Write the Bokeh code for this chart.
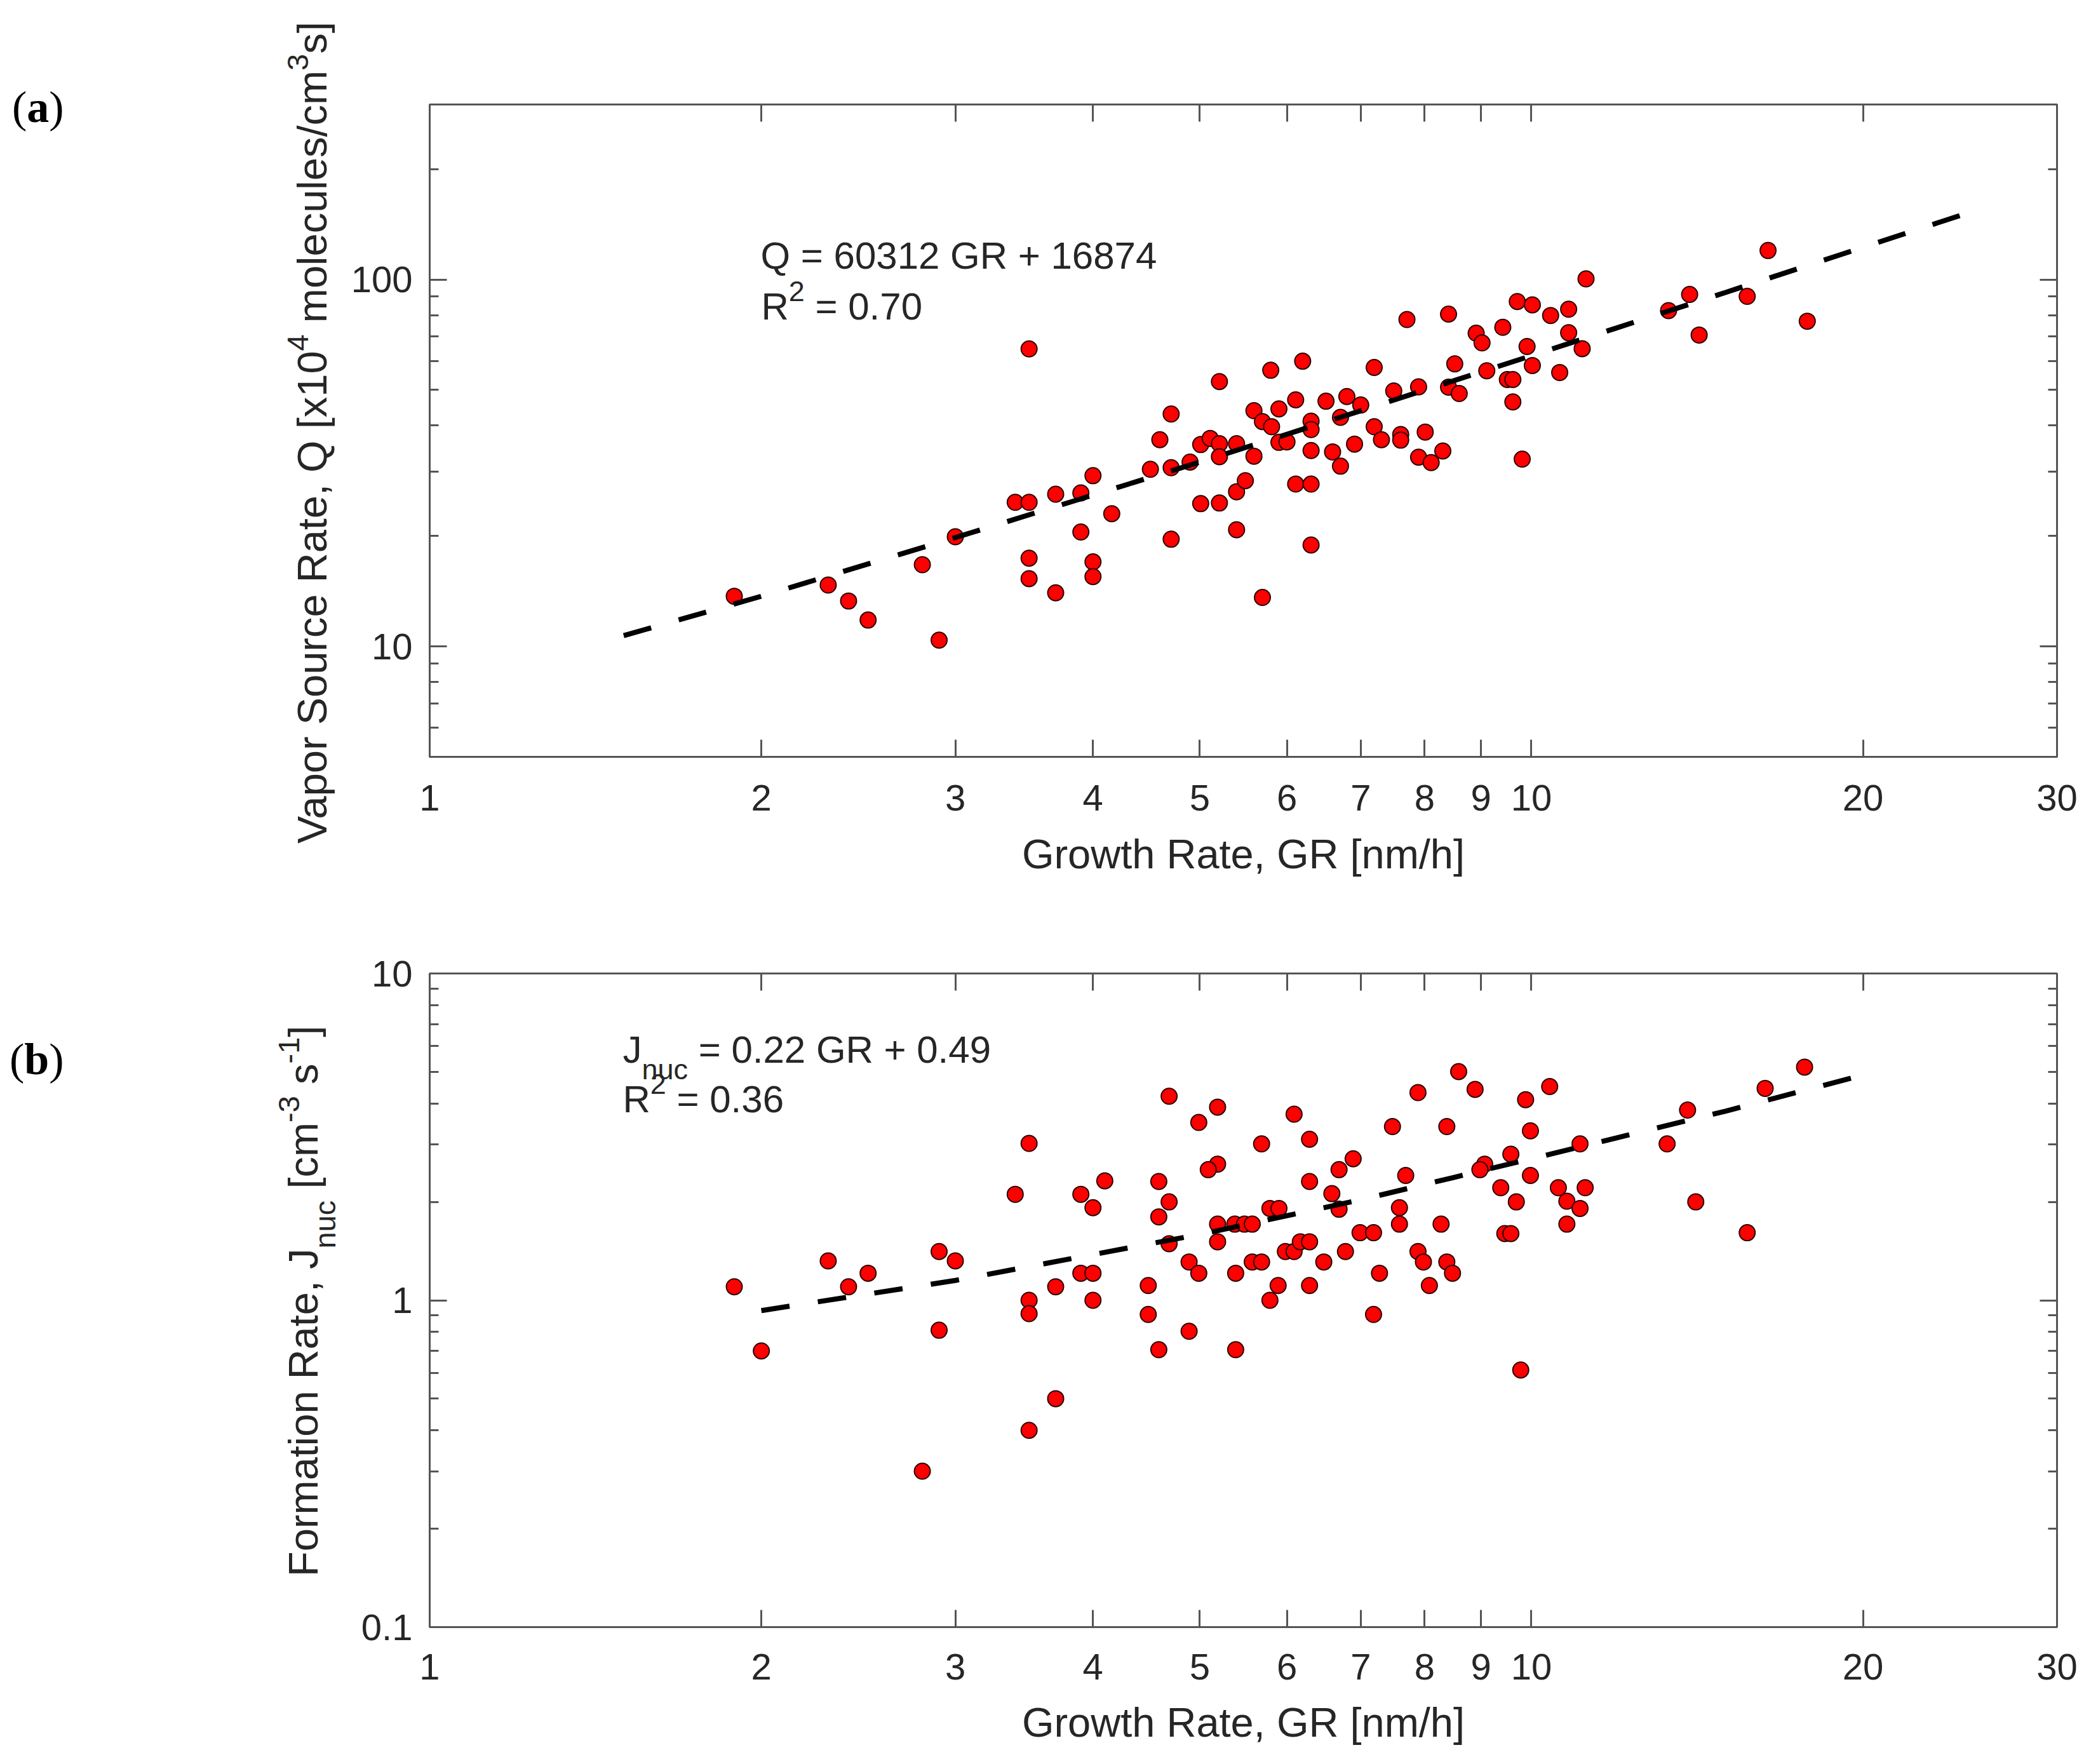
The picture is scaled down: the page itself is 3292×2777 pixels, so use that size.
import math
import html
from bokeh.plotting import figure
from bokeh.models import LogAxis, FixedTicker, CustomJSTickFormatter, Label, Div
from bokeh.layouts import column, row
from bokeh.embed import file_html
from bokeh.resources import INLINE

# ---------------- data ----------------
x_ticks = [1, 2, 3, 4, 5, 6, 7, 8, 9, 10, 20, 30]

# panel (a): vapour source rate Q [x1e4 molecules/cm3 s] vs growth rate
gr_a = [1.89, 2.30, 2.40, 2.50, 2.80, 2.90, 3.00, 3.40, 3.50, 3.50, 3.50, 3.50, 3.70, 3.70, 3.90, 3.90, 4.00, 4.00, 4.00, 4.16,
        4.51, 4.60, 4.71, 4.71, 4.71, 4.90, 5.01, 5.01, 5.11, 5.21, 5.21, 5.21, 5.21, 5.40, 5.40, 5.40, 5.50, 5.60, 5.60, 5.70,
        5.70, 5.80, 5.81, 5.90, 5.90, 6.00, 6.11, 6.11, 6.20, 6.31, 6.31, 6.31, 6.31, 6.31, 6.51, 6.60, 6.71, 6.71, 6.80, 6.91,
        7.00, 7.20, 7.20, 7.31, 7.50, 7.61, 7.61, 7.71, 7.90, 8.01, 7.90, 8.11,
        8.31, 8.41, 8.41, 8.60, 8.52, 8.91, 9.02, 9.11, 9.42, 9.51, 9.62, 9.62, 9.71, 9.81, 9.91, 10.02, 10.02, 10.41, 10.61,
        10.81, 10.81, 11.12, 11.21, 13.32, 13.92,
        14.2, 15.7, 16.4, 17.8]
q_a = [13.7, 14.7, 13.3, 11.8, 16.7, 10.4, 19.9, 24.7, 24.7, 64.7, 17.4, 15.3, 26.0, 14.0, 20.5, 26.2, 29.2, 17.0, 15.5, 23.0,
       30.4, 36.6, 43.0, 30.7, 19.6, 31.8, 35.5, 24.5, 36.9, 52.7, 35.7, 32.9, 24.6, 35.7, 26.4, 20.8, 28.3, 43.9, 33.0, 41.0,
       13.6, 56.6, 39.7, 44.4, 36.0, 36.1, 47.0, 27.7, 59.9, 41.1, 39.0, 34.2, 27.7, 18.9, 46.6, 33.9, 42.1, 31.0, 48.0, 35.6,
       45.5, 57.6, 39.7, 36.6, 49.7, 37.8, 36.5, 77.8, 51.0, 38.4, 32.8, 31.7,
       34.1, 80.5, 50.9, 48.9, 58.9, 71.4, 67.2, 56.4, 74.1, 53.4, 53.4, 46.4, 87.1, 32.4, 65.7, 85.3, 58.3, 79.8, 55.8,
       83.0, 71.6, 64.8, 100.4, 82.3, 91.1,
       70.6, 90.0, 120.0, 77.0]
fit_a_gr = [1.5, 2, 3, 5, 7, 10, 15, 25]
fit_a_q = [10.7, 13.7, 19.8, 31.8, 43.9, 62.0, 92.2, 152.5]
ya_ticks = [10, 100]
ya_minor = [5, 6, 7, 8, 9, 20, 30, 40, 50, 60, 70, 80, 90, 200, 300]

# panel (b): formation rate J_nuc [cm-3 s-1] vs growth rate
gr_b = [1.89, 2.0, 2.3, 2.4, 2.5, 2.8, 2.9, 2.9, 3.0, 3.4, 3.5, 3.5, 3.5, 3.5, 3.7, 3.7, 3.9, 3.9, 4.0, 4.0, 4.0, 4.1,
        4.69, 5.19, 4.99, 6.09, 5.69, 6.29, 7.89, 7.48, 6.89, 6.69, 7.69, 5.19, 5.09, 4.59, 6.29, 4.69, 4.59, 6.59, 6.69, 5.79,
        5.90, 5.19, 5.38, 5.49, 5.58, 4.69, 5.19, 7.59, 7.59, 6.99, 7.19, 4.89, 4.99, 5.39, 5.58, 5.69, 5.98, 6.09, 6.17, 6.29,
        6.48, 6.78, 7.89, 7.98, 7.28, 4.49, 5.89, 5.79, 6.29, 8.08, 4.49, 7.19, 4.89, 4.59, 5.39,
        8.59, 8.89, 10.39, 9.88, 8.38, 9.98, 13.86, 11.07, 13.28, 9.58, 9.07, 8.98, 9.98, 9.38, 10.58, 11.19, 9.69, 10.77,
        11.07, 8.28, 9.46, 9.58, 10.77, 8.38, 8.48, 9.78,
        14.1, 15.7, 16.3, 17.7]
j_b = [1.10, 0.70, 1.32, 1.10, 1.21, 0.30, 1.41, 0.81, 1.32, 2.11, 3.02, 1.00, 0.91, 0.40, 1.10, 0.50, 2.11, 1.21, 1.92, 1.21, 1.00, 2.32,
       4.21, 3.90, 3.50, 3.71, 3.01, 3.11, 4.32, 3.40, 2.71, 2.51, 2.41, 2.61, 2.51, 2.31, 2.31, 2.00, 1.80, 2.12, 1.90, 1.91,
       1.91, 1.71, 1.71, 1.71, 1.71, 1.49, 1.51, 1.92, 1.71, 1.61, 1.61, 1.31, 1.21, 1.21, 1.31, 1.31, 1.41, 1.41, 1.51, 1.51,
       1.31, 1.41, 1.41, 1.31, 1.21, 1.11, 1.11, 1.00, 1.11, 1.11, 0.905, 0.905, 0.804, 0.706, 0.706,
       5.01, 4.42, 4.51, 4.11, 3.40, 3.30, 3.82, 3.01, 3.01, 2.80, 2.61, 2.51, 2.41, 2.21, 2.21, 2.21, 2.00, 2.01,
       1.91, 1.71, 1.60, 1.60, 1.71, 1.31, 1.21, 0.612,
       2.0, 1.61, 4.45, 5.17]
fit_b_gr = [2, 3, 5, 7, 10, 15, 20]
fit_b_j = [0.93, 1.15, 1.59, 2.03, 2.71, 3.79, 4.89]
yb_ticks = [0.1, 1, 10]
yb_minor = [0.2, 0.3, 0.4, 0.5, 0.6, 0.7, 0.8, 0.9, 2, 3, 4, 5, 6, 7, 8, 9]

# ---------------- styling helpers ----------------
SANS = "Liberation Sans"
SERIF = "Liberation Serif"
AX_COL = "#555555"
TXT_COL = "#262626"
BASE_FIX = 0.34   # Label anchor sits ~0.34 em above the alphabetic baseline in the svg output

W_SANS = {' ': .278, ',': .278, '.': .278, '-': .333, '=': .584, '+': .584, '[': .278, ']': .278, '/': .278,
          'F': .611, 'R': .722, 'J': .5, 'Q': .778, 'G': .778, 'S': .667, 'V': .667,
          'a': .556, 'c': .5, 'e': .556, 'i': .222, 'l': .222, 'm': .833, 'n': .556, 'o': .556, 'p': .556,
          'r': .333, 's': .5, 't': .278, 'u': .556, 'x': .5, 'h': .556, 'w': .722}
for d in "0123456789":
    W_SANS[d] = .556


def text_width(s, size):
    return sum(W_SANS.get(c, .556) for c in s) * size


def eq_text(p, fl, fb, ox, oy, pieces):
    """Horizontal rich text inside the frame; pieces: (text, size_px, baseline_shift_px)."""
    pos = ox
    for text, size, shift in pieces:
        lead = len(text) - len(text.lstrip(" "))
        pos += text_width(" " * lead, size)
        body = text.lstrip(" ")
        ly = oy + shift - BASE_FIX * size
        p.add_layout(Label(x=pos - fl, y=fb - ly, x_units="screen", y_units="screen", text=body,
                           text_font=SANS, text_font_size=f"{size}px", text_color=TXT_COL,
                           text_align="left", text_baseline="alphabetic"))
        pos += text_width(body, size)


def span(t, size=None, shift=0, bold=False):
    t = html.escape(t)
    if bold:
        t = f"<b>{t}</b>"
    if size is None:
        return t
    return (f'<span style="font-size:{size}px;line-height:0;position:relative;top:{shift}px">{t}</span>')


def vertical_label(x_base, y_start, parts, size):
    """Text reading bottom-to-top; x_base = baseline x, y_start = y where the text starts."""
    off = 0.8465 * size
    inner = "".join(parts)
    return (f'<div style="position:absolute;left:{x_base - off:.1f}px;top:{y_start:.1f}px;'
            f'transform-origin:0 0;transform:rotate(-90deg);white-space:nowrap;'
            f"font-family:'{SANS}';font-size:{size}px;line-height:{size}px;color:{TXT_COL}\">{inner}</div>")


def panel_tag(x, baseline, letter):
    size = 70
    top = baseline - 0.8375 * size
    return (f'<div style="position:absolute;left:{x}px;top:{top:.1f}px;white-space:nowrap;'
            f"font-family:'{SERIF}';font-size:{size}px;line-height:{size}px;color:#000\">"
            f"({span(letter, bold=True)})</div>")


def strip(h, content):
    text = (f'<div style="position:relative;width:{LEFT_W}px;height:{h}px;overflow:visible">'
            f"{content}</div>")
    return Div(text=text, width=LEFT_W, height=h, margin=0, styles={"overflow": "visible"})


def style_axis(ax, ticker, labels, standoff=10):
    ax.ticker = ticker
    ax.axis_line_color = AX_COL
    ax.axis_line_width = 3
    ax.major_tick_line_color = AX_COL
    ax.major_tick_line_width = 3
    ax.major_tick_in = 27
    ax.major_tick_out = 0
    ax.minor_tick_line_color = AX_COL
    ax.minor_tick_line_width = 3
    ax.minor_tick_in = 14
    ax.minor_tick_out = 0
    ax.major_label_text_font = SANS
    ax.major_label_text_color = TXT_COL
    ax.major_label_standoff = standoff
    if labels:
        ax.major_label_text_font_size = "58px"
        ax.formatter = CustomJSTickFormatter(code="return String(tick)")
    else:
        ax.major_label_text_font_size = "1px"
        ax.formatter = CustomJSTickFormatter(code="return ''")


LEFT_W = 540          # width of the label strip on the left
FL, FR = 676, 3238    # frame left / right in image pixels
TOTAL_W = 3276


def make_panel(fig_top, frame_top, frame_bottom, fig_h, y_range, y_ticks, y_minor, x_standoff, lab_standoff):
    p = figure(x_axis_type="log", y_axis_type="log", x_range=(1, 30), y_range=y_range,
               frame_width=FR - FL, frame_height=frame_bottom - frame_top,
               min_border_left=FL - LEFT_W, min_border_right=TOTAL_W - FR,
               min_border_top=frame_top - fig_top,
               min_border_bottom=fig_h - (frame_bottom - fig_top),
               output_backend="svg", toolbar_location=None,
               background_fill_color="white", border_fill_color="white")
    p.xgrid.visible = False
    p.ygrid.visible = False
    p.outline_line_color = AX_COL
    p.outline_line_width = 3
    style_axis(p.xaxis[0], FixedTicker(ticks=x_ticks, minor_ticks=[]), True, x_standoff)
    style_axis(p.yaxis[0], FixedTicker(ticks=y_ticks, minor_ticks=y_minor), True, 27)
    p.xaxis[0].axis_label = "Growth Rate, GR [nm/h]"
    p.xaxis[0].axis_label_text_font = SANS
    p.xaxis[0].axis_label_text_font_size = "65px"
    p.xaxis[0].axis_label_text_font_style = "normal"
    p.xaxis[0].axis_label_text_color = TXT_COL
    p.xaxis[0].axis_label_standoff = lab_standoff
    top = LogAxis()
    style_axis(top, FixedTicker(ticks=x_ticks, minor_ticks=[]), False, 0)
    p.add_layout(top, "above")
    right = LogAxis()
    style_axis(right, FixedTicker(ticks=y_ticks, minor_ticks=y_minor), False, 0)
    p.add_layout(right, "right")
    return p


# ---------------- panel (a) ----------------
TOP_A, H_A = 0, 1401
FT_A, FB_A = 164, 1191
p1 = make_panel(TOP_A, FT_A, FB_A, H_A, (5, 300), ya_ticks, ya_minor, 44, 29)
p1.scatter(gr_a, q_a, size=25, marker="circle", fill_color="#ff0000", line_color="#2a0000", line_width=2)
p1.line(fit_a_gr, fit_a_q, line_color="black", line_width=8, line_dash="45 45")
eq_text(p1, FL, FB_A, 1197, 422, [("Q = 60312 GR + 16874", 60, 0)])
eq_text(p1, FL, FB_A, 1198, 502, [("R", 60, 0), ("2", 45, -29), (" = 0.70", 60, 0)])

label_a = vertical_label(514, 1328 - TOP_A,
                         [span("Vapor Source Rate, Q [x10"), span("4", 47, -29), span(" molecules/cm"),
                          span("3", 47, -29), span("s]")], 65)
s1 = strip(H_A, panel_tag(19, 193 - TOP_A, "a") + label_a)

# ---------------- panel (b) ----------------
TOP_B, H_B = 1401, 1360
FT_B, FB_B = 1532, 2561
p2 = make_panel(TOP_B, FT_B, FB_B, H_B, (0.1, 10), yb_ticks, yb_minor, 42, 28)
p2.scatter(gr_b, j_b, size=25, marker="circle", fill_color="#ff0000", line_color="#2a0000", line_width=2)
p2.line(fit_b_gr, fit_b_j, line_color="black", line_width=8, line_dash="45 45")
eq_text(p2, FL, FB_B, 980, 1672, [("J", 60, 0), ("nuc", 45, 26), (" = 0.22 GR + 0.49", 60, 0)])
eq_text(p2, FL, FB_B, 980, 1750, [("R", 60, 0), ("2", 45, -29), (" = 0.36", 60, 0)])

label_b = vertical_label(500, 2482 - TOP_B,
                         [span("Formation Rate, J"), span("nuc", 47, 28), span(" [cm"), span("-3", 47, -29),
                          span(" s"), span("-1", 47, -29), span("]")], 65)
s2 = strip(H_B, panel_tag(15, 1692 - TOP_B, "b") + label_b)

layout = column(row(s1, p1, spacing=0), row(s2, p2, spacing=0), spacing=0)
open("out.html", "w").write(file_html(layout, INLINE))
